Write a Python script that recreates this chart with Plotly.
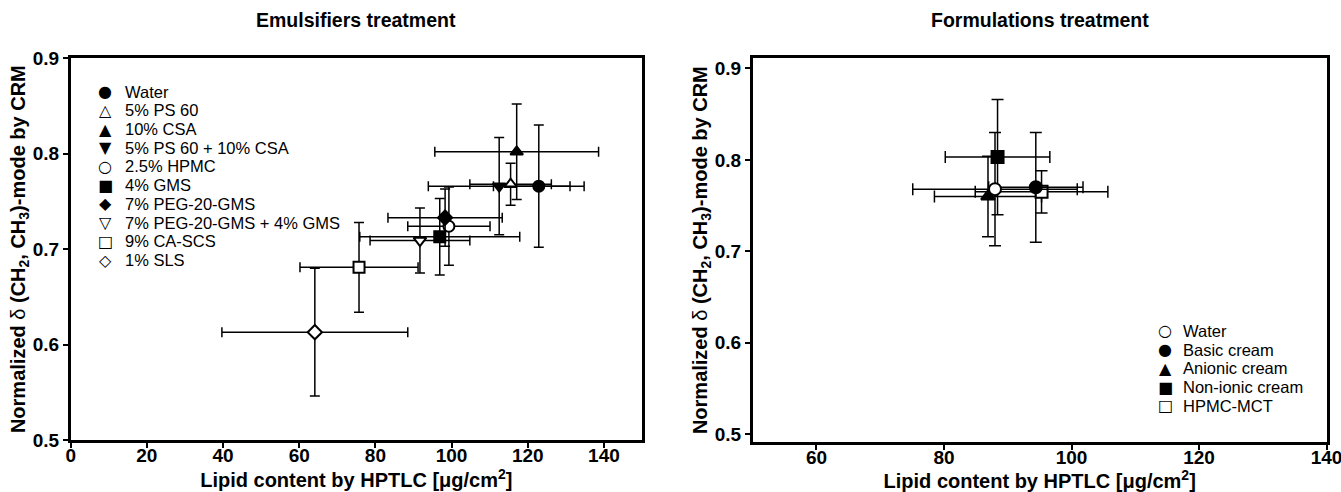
import plotly.graph_objects as go

W, H = 1341, 492

# ---------------- data: Emulsifiers treatment ----------------
emul_names = ["Water", "5% PS 60", "10% CSA", "5% PS 60 + 10% CSA", "2.5% HPMC",
              "4% GMS", "7% PEG-20-GMS", "7% PEG-20-GMS + 4% GMS", "9% CA-SCS", "1% SLS"]
emul_lipid = [122.9, 115.5, 117.1, 112.5, 99.3, 96.9, 98.3, 91.7, 75.7, 64.1]
emul_lipid_err = [11.9, 10.7, 21.5, 18.6, 10.8, 21.0, 15.0, 13.1, 15.5, 24.4]
emul_delta = [0.766, 0.768, 0.802, 0.766, 0.724, 0.713, 0.733, 0.709, 0.681, 0.613]
emul_delta_err = [0.064, 0.022, 0.050, 0.051, 0.041, 0.040, 0.030, 0.034, 0.047, 0.067]

# ---------------- data: Formulations treatment ----------------
form_names = ["Water", "Basic cream", "Anionic cream", "Non-ionic cream", "HPMC-MCT"]
form_lipid = [88.0, 94.4, 86.9, 88.4, 95.3]
form_lipid_err = [12.9, 7.4, 8.4, 8.2, 10.4]
form_delta = [0.768, 0.770, 0.760, 0.803, 0.765]
form_delta_err = [0.062, 0.060, 0.044, 0.063, 0.023]

# ticks
emul_xticks = [0, 20, 40, 60, 80, 100, 120, 140]
form_xticks = [60, 80, 100, 120, 140]
yticks = [0.5, 0.6, 0.7, 0.8, 0.9]

# ---------------- styles ----------------
emul_symbols = ["circle", "triangle-up", "triangle-up", "triangle-down", "circle",
                "square", "diamond", "triangle-down", "square", "diamond"]
emul_filled = [True, False, True, True, False, True, True, False, False, False]
emul_glyphs = ["●", "△", "▲", "▼", "○", "■", "◆", "▽", "□", "◇"]

form_symbols = ["circle", "circle", "triangle-up", "square", "square"]
form_filled = [False, True, True, True, False]
form_glyphs = ["○", "●", "▲", "■", "□"]

FONT = "Liberation Sans, Arial, Helvetica, sans-serif"
GLYPH_FONT = "DejaVu Sans, sans-serif"

fig = go.Figure()


def add_points(names, xs, xe, ys, ye, symbols, filled, order, xa, ya, msize, capw):
    for i in order:
        fig.add_trace(go.Scatter(
            x=[xs[i]], y=[ys[i]], name=names[i], mode="markers",
            xaxis=xa, yaxis=ya, showlegend=False,
            marker=dict(symbol=symbols[i], size=msize,
                        color="black" if filled[i] else "white",
                        line=dict(color="black", width=2)),
            error_x=dict(type="data", array=[xe[i]], color="black", thickness=1.5, width=capw),
            error_y=dict(type="data", array=[ye[i]], color="black", thickness=1.5, width=capw),
        ))


add_points(emul_names, emul_lipid, emul_lipid_err, emul_delta, emul_delta_err,
           emul_symbols, emul_filled, [9, 8, 7, 5, 4, 6, 3, 2, 1, 0], "x", "y", 11, 5)
add_points(form_names, form_lipid, form_lipid_err, form_delta, form_delta_err,
           form_symbols, form_filled, [3, 2, 4, 1, 0], "x2", "y2", 12, 6)

axis_common = dict(showline=True, linewidth=2.5, linecolor="black", mirror=True,
                   ticks="outside", ticklen=5, tickwidth=2, tickcolor="black",
                   showgrid=False, zeroline=False, automargin=False,
                   ticklabeloverflow="allow",
                   tickfont=dict(family=FONT, size=19, color="black", weight="bold"))

xtitle = "Lipid content by HPTLC [μg/cm<sup>2</sup>]"
ytitle = ("Normalized <span style='font-weight:normal'>δ</span> "
          "(CH<sub>2</sub>, CH<sub>3</sub>)-mode by CRM")
title_font = dict(family=FONT, size=20, color="black", weight="bold")
head_font = dict(family=FONT, size=19.5, color="black", weight="bold")

fig.update_layout(
    width=W, height=H, margin=dict(l=0, r=0, t=0, b=0),
    paper_bgcolor="white", plot_bgcolor="white",
    xaxis=dict(domain=[70.7 / W, 642 / W], range=[0, 150], tickvals=emul_xticks,
               anchor="y", ticklabelstandoff=-9,
               title=dict(text=xtitle, font=title_font, standoff=4), **axis_common),
    yaxis=dict(domain=[1 - 440 / H, 1 - 58.3 / H], range=[0.5, 0.9], tickvals=yticks,
               tickformat=".1f", anchor="x",
               title=dict(text=ytitle, font=title_font, standoff=2), **axis_common),
    xaxis2=dict(domain=[752.7 / W, 1326.7 / W], range=[50, 140.02], tickvals=form_xticks,
                anchor="y2", ticklabelstandoff=-9,
                title=dict(text=xtitle, font=title_font, standoff=4), **axis_common),
    yaxis2=dict(domain=[1 - 442 / H, 1 - 58.3 / H], range=[0.4916, 0.911], tickvals=yticks,
                tickformat=".1f", anchor="x2",
                title=dict(text=ytitle, font=title_font, standoff=2), **axis_common),
)

annotations = [
    dict(text="Emulsifiers treatment", x=356.4 / W, y=1 - 20 / H, xref="paper", yref="paper",
         xanchor="center", yanchor="middle", showarrow=False, font=head_font),
    dict(text="Formulations treatment", x=1039.7 / W, y=1 - 20 / H, xref="paper", yref="paper",
         xanchor="center", yanchor="middle", showarrow=False, font=head_font),
]


def legend_block(names, glyphs, sym_x, text_x, y0, step):
    out = []
    for k, (nm, g) in enumerate(zip(names, glyphs)):
        yy = 1 - (y0 + k * step) / H
        out.append(dict(text=g, x=sym_x / W, y=yy, xref="paper", yref="paper",
                        xanchor="center", yanchor="middle", showarrow=False,
                        font=dict(family=GLYPH_FONT, size=16, color="black")))
        out.append(dict(text=nm, x=text_x / W, y=yy, xref="paper", yref="paper",
                        xanchor="left", yanchor="middle", showarrow=False,
                        font=dict(family=FONT, size=16.5, color="black")))
    return out


annotations += legend_block(emul_names, emul_glyphs, 105, 123, 91.7, 18.7)
annotations += legend_block(form_names, form_glyphs, 1165, 1181, 330.7, 18.8)
fig.update_layout(annotations=annotations)

fig.write_html("out.html")
